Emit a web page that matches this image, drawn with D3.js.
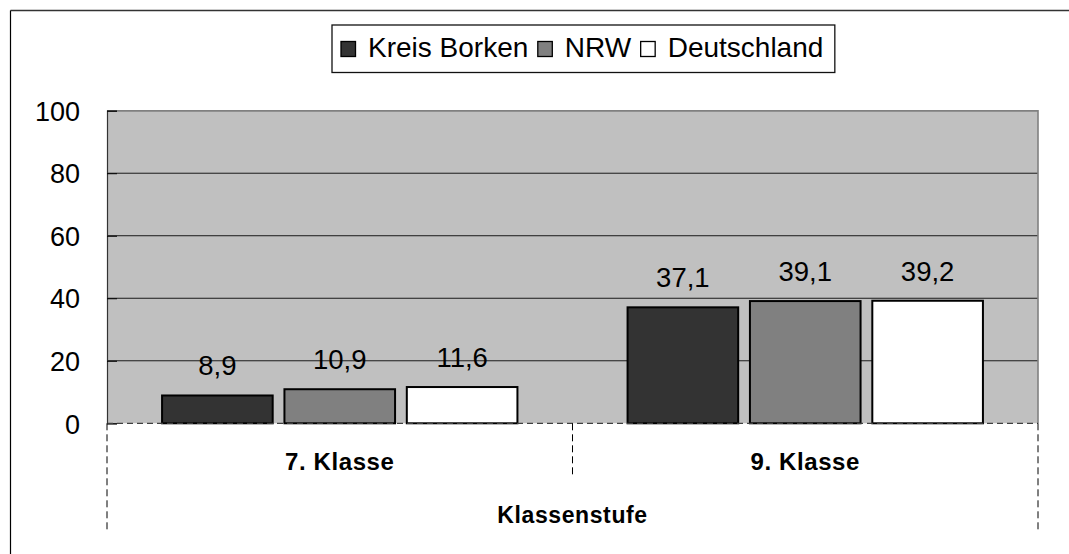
<!DOCTYPE html>
<html><head><meta charset="utf-8">
<script src="https://cdn.jsdelivr.net/npm/d3@7"></script>
<style>body{margin:0;background:#fff}svg{display:block;font-family:"Liberation Sans",Arial,sans-serif}</style>
</head><body><svg id="c" width="1069" height="554"></svg>
<script>
const categories = ["7. Klasse", "9. Klasse"];
const seriesNames = ["Kreis Borken", "NRW", "Deutschland"];
const kreisBorken = [8.9, 37.1];
const nrw = [10.9, 39.1];
const deutschland = [11.6, 39.2];
const yTicks = [0, 20, 40, 60, 80, 100];
const axisTitle = "Klassenstufe";
const colors = ["#333333", "#808080", "#ffffff"];

const seriesValues = [kreisBorken, nrw, deutschland];
const fmt = v => String(v).replace(".", ",");

const svg = d3.select("#c");
const L = 107, R = 1038, T = 110.7, B = 423.3;

// outer frame
svg.append("line").attr("x1", 10.5).attr("x2", 1069).attr("y1", 10.5).attr("y2", 10.5).attr("stroke", "#333").attr("stroke-width", 1.6);
svg.append("line").attr("x1", 10.5).attr("x2", 10.5).attr("y1", 10.5).attr("y2", 554).attr("stroke", "#000").attr("stroke-width", 1.2);

const y = d3.scaleLinear().domain([0, 100]).range([B, T]);
const x0 = d3.scaleBand().domain(categories).range([L, R]);
const x1 = d3.scaleBand().domain(seriesNames).range([0, x0.bandwidth()]).paddingInner(0.096).paddingOuter(0.45);

// plot area
svg.append("rect").attr("x", L).attr("y", T).attr("width", R - L).attr("height", B - T).attr("fill", "#c0c0c0");

// gridlines
svg.append("g").selectAll("line").data(yTicks.filter(t => t > 0)).join("line")
  .attr("x1", L).attr("x2", R).attr("y1", d => y(d)).attr("y2", d => y(d))
  .attr("stroke", "#1a1a1a").attr("stroke-width", 1);

// plot border (gray) top/right
svg.append("path").attr("d", `M${L},${T}H${R}V${B}`).attr("fill", "none").attr("stroke", "#808080").attr("stroke-width", 1.6);

// y axis
const yAxis = d3.axisLeft(y).tickValues(yTicks).tickSize(-10).tickPadding(27).tickFormat(d => d);
const ya = svg.append("g").attr("transform", `translate(${L},0)`).call(yAxis);
ya.select(".domain").attr("stroke", "#333").attr("stroke-width", 1.2);
ya.selectAll(".tick line").attr("stroke", "#000");
ya.selectAll("text").attr("font-size", 27).attr("fill", "#000").attr("font-family", "Liberation Sans, Arial, sans-serif").attr("dy", "0.36em");

// bars
const groups = svg.append("g").selectAll("g").data(categories).join("g")
  .attr("transform", c => `translate(${x0(c)},0)`);
groups.selectAll("rect").data((c, ci) => seriesNames.map((s, si) => ({ s, si, v: seriesValues[si][ci] }))).join("rect")
  .attr("x", d => x1(d.s)).attr("width", x1.bandwidth())
  .attr("y", d => y(d.v)).attr("height", d => B - y(d.v))
  .attr("fill", d => colors[d.si]).attr("stroke", "#000").attr("stroke-width", 2);
groups.selectAll("text").data((c, ci) => seriesNames.map((s, si) => ({ s, si, v: seriesValues[si][ci] }))).join("text")
  .attr("x", d => x1(d.s) + x1.bandwidth() / 2).attr("y", d => y(d.v) - 20)
  .attr("text-anchor", "middle").attr("font-size", 27.5).text(d => fmt(d.v));

// x axis dashed
svg.append("line").attr("x1", L).attr("x2", R).attr("y1", B).attr("y2", B)
  .attr("stroke", "#404040").attr("stroke-width", 1.3).attr("stroke-dasharray", "6,4");
// vertical dashed separators
const seps = [L, x0(categories[1]), R];
svg.append("g").selectAll("line").data(seps).join("line")
  .attr("x1", d => d).attr("x2", d => d).attr("y1", B)
  .attr("y2", (d, i) => i === 1 ? 477 : 533)
  .attr("stroke", "#000").attr("stroke-width", 1).attr("stroke-dasharray", "7,4");

// category labels
svg.append("g").selectAll("text").data(categories).join("text")
  .attr("x", c => x0(c) + x0.bandwidth() / 2).attr("y", 470)
  .attr("text-anchor", "middle").attr("font-size", 24).attr("font-weight", "bold").attr("letter-spacing", 0.6).text(c => c);
svg.append("text").attr("x", (L + R) / 2).attr("y", 523).attr("text-anchor", "middle")
  .attr("font-size", 23).attr("font-weight", "bold").attr("letter-spacing", 0.6).text(axisTitle);

// legend
const lg = svg.append("g");
const box = lg.append("rect").attr("x", 332).attr("y", 25).attr("width", 505).attr("height", 47.5)
  .attr("fill", "#fff").attr("stroke", "#111").attr("stroke-width", 1.3);
let cx = 341;
seriesNames.forEach((s, i) => {
  lg.append("rect").attr("x", cx).attr("y", 41.5).attr("width", 14.5).attr("height", 15)
    .attr("fill", colors[i]).attr("stroke", "#000").attr("stroke-width", 1.3);
  const t = lg.append("text").attr("x", cx + 27).attr("y", 56.7).attr("font-size", 28).text(s);
  cx = cx + 27 + t.node().getComputedTextLength() + 9.5;
});
box.attr("width", cx - 332 + 2);
</script></body></html>
